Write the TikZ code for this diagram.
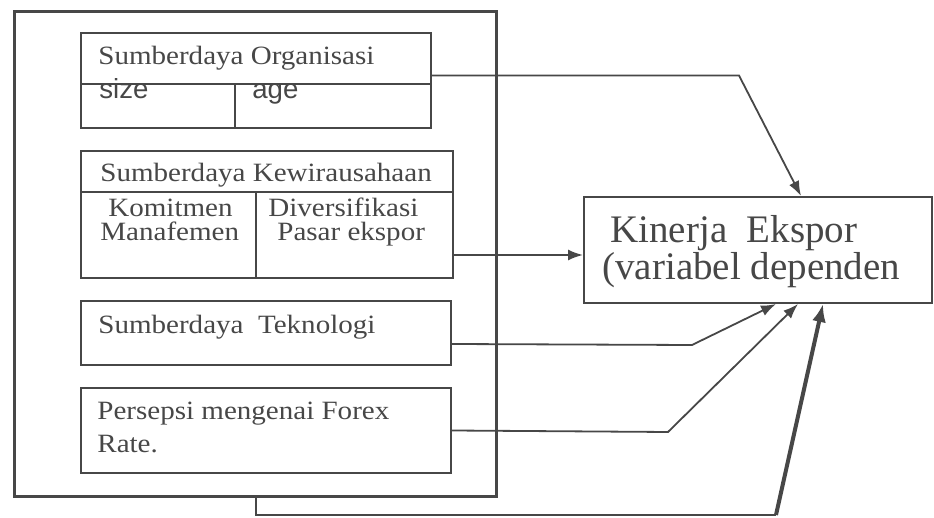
\documentclass[tikz,border=0pt]{standalone}
\usepackage{fontspec}
\setmainfont{Liberation Serif}[FakeStretch=1.1]
\newfontfamily\bigserif{Liberation Serif}
\newfontfamily\plainsans{Liberation Sans}
\usetikzlibrary{arrows.meta, positioning}
\definecolor{ink}{HTML}{474747}
\tikzset{frame/.style={draw=ink, line width=1pt, inner sep=0pt, anchor=north west},
lbl/.style={anchor=base west, inner sep=0pt, text=ink, font=\fontsize{13.2}{15}\selectfont},
link/.style={draw=ink, line width=0.9pt, -{Latex[length=7.5pt,width=5.5pt]}}}

\begin{document}
\begin{tikzpicture}[x=0.5pt, y=-0.5pt]
\useasboundingbox (0,0) rectangle (934,518);
\node[frame, line width=1.7pt, minimum width=241pt, minimum height=242.5pt] (outer) at (13,10) {};
\node[frame, minimum width=175pt, minimum height=47.5pt] (org) at (80,32) {};
\node[frame, minimum width=186pt, minimum height=63.5pt] (ent) at (80,150) {};
\node[frame, minimum width=185pt, minimum height=32pt] (tech) at (80,300) {};
\node[frame, minimum width=185pt, minimum height=42.5pt] (forex) at (80,387) {};
\node[frame, minimum width=174pt, minimum height=53pt] (target) at (583,196) {};
\draw[ink, line width=1pt] (80,84)--(430,84) (235,84)--(235,127) (80,192)--(452,192) (256,192)--(256,277);
\node[lbl] (orgT) at (98,65) {Sumberdaya Organisasi};
\node[lbl, font=\plainsans\fontsize{13.8}{15}\selectfont] (size) at (99,99) {size};
\node[lbl, font=\plainsans\fontsize{13.8}{15}\selectfont] (age) at (252,99) {age};
\node[lbl] (entT) at (100,182) {Sumberdaya Kewirausahaan};
\node[lbl] (kom) at (108,217) {Komitmen};
\node[lbl] (man) at (100,241) {Manafemen};
\node[lbl] (div) at (268,217) {Diversifikasi};
\node[lbl] (pasar) at (277,241) {Pasar ekspor};
\node[lbl] (techT) at (98,334) {Sumberdaya\ \ Teknologi};
\node[lbl] (forexA) at (97,420) {Persepsi mengenai Forex};
\node[lbl] (forexB) at (97,453) {Rate.};
\node[lbl, font=\bigserif\fontsize{19.5}{22}\selectfont] (kin) at (610,243) {Kinerja\ \ Ekspor};
\node[lbl, font=\bigserif\fontsize{19.5}{22}\selectfont] (var) at (602,280) {(variabel dependen};
% connectors
\coordinate (e2) at (452,255);
\coordinate (base) at (776,515);
\draw[link] ([yshift=2.5pt]org.east) -- ++(307,0) -- ([xshift=21.5pt]target.north);
\draw[link] (e2) -- (e2 -| target.west);
\draw[link] ([yshift=-5.5pt]tech.east) -- (692,345) -- ([xshift=9pt]target.south);
\draw[link] (forex.east) -- (668,432) -- ([xshift=20pt]target.south);
\draw[ink, line width=1.2pt] (outer.south) |- (base);
\draw[link, line width=2pt, -{Latex[length=9pt,width=7pt]}] (base) -- ([xshift=32.5pt]target.south);
\end{tikzpicture}
\end{document}
